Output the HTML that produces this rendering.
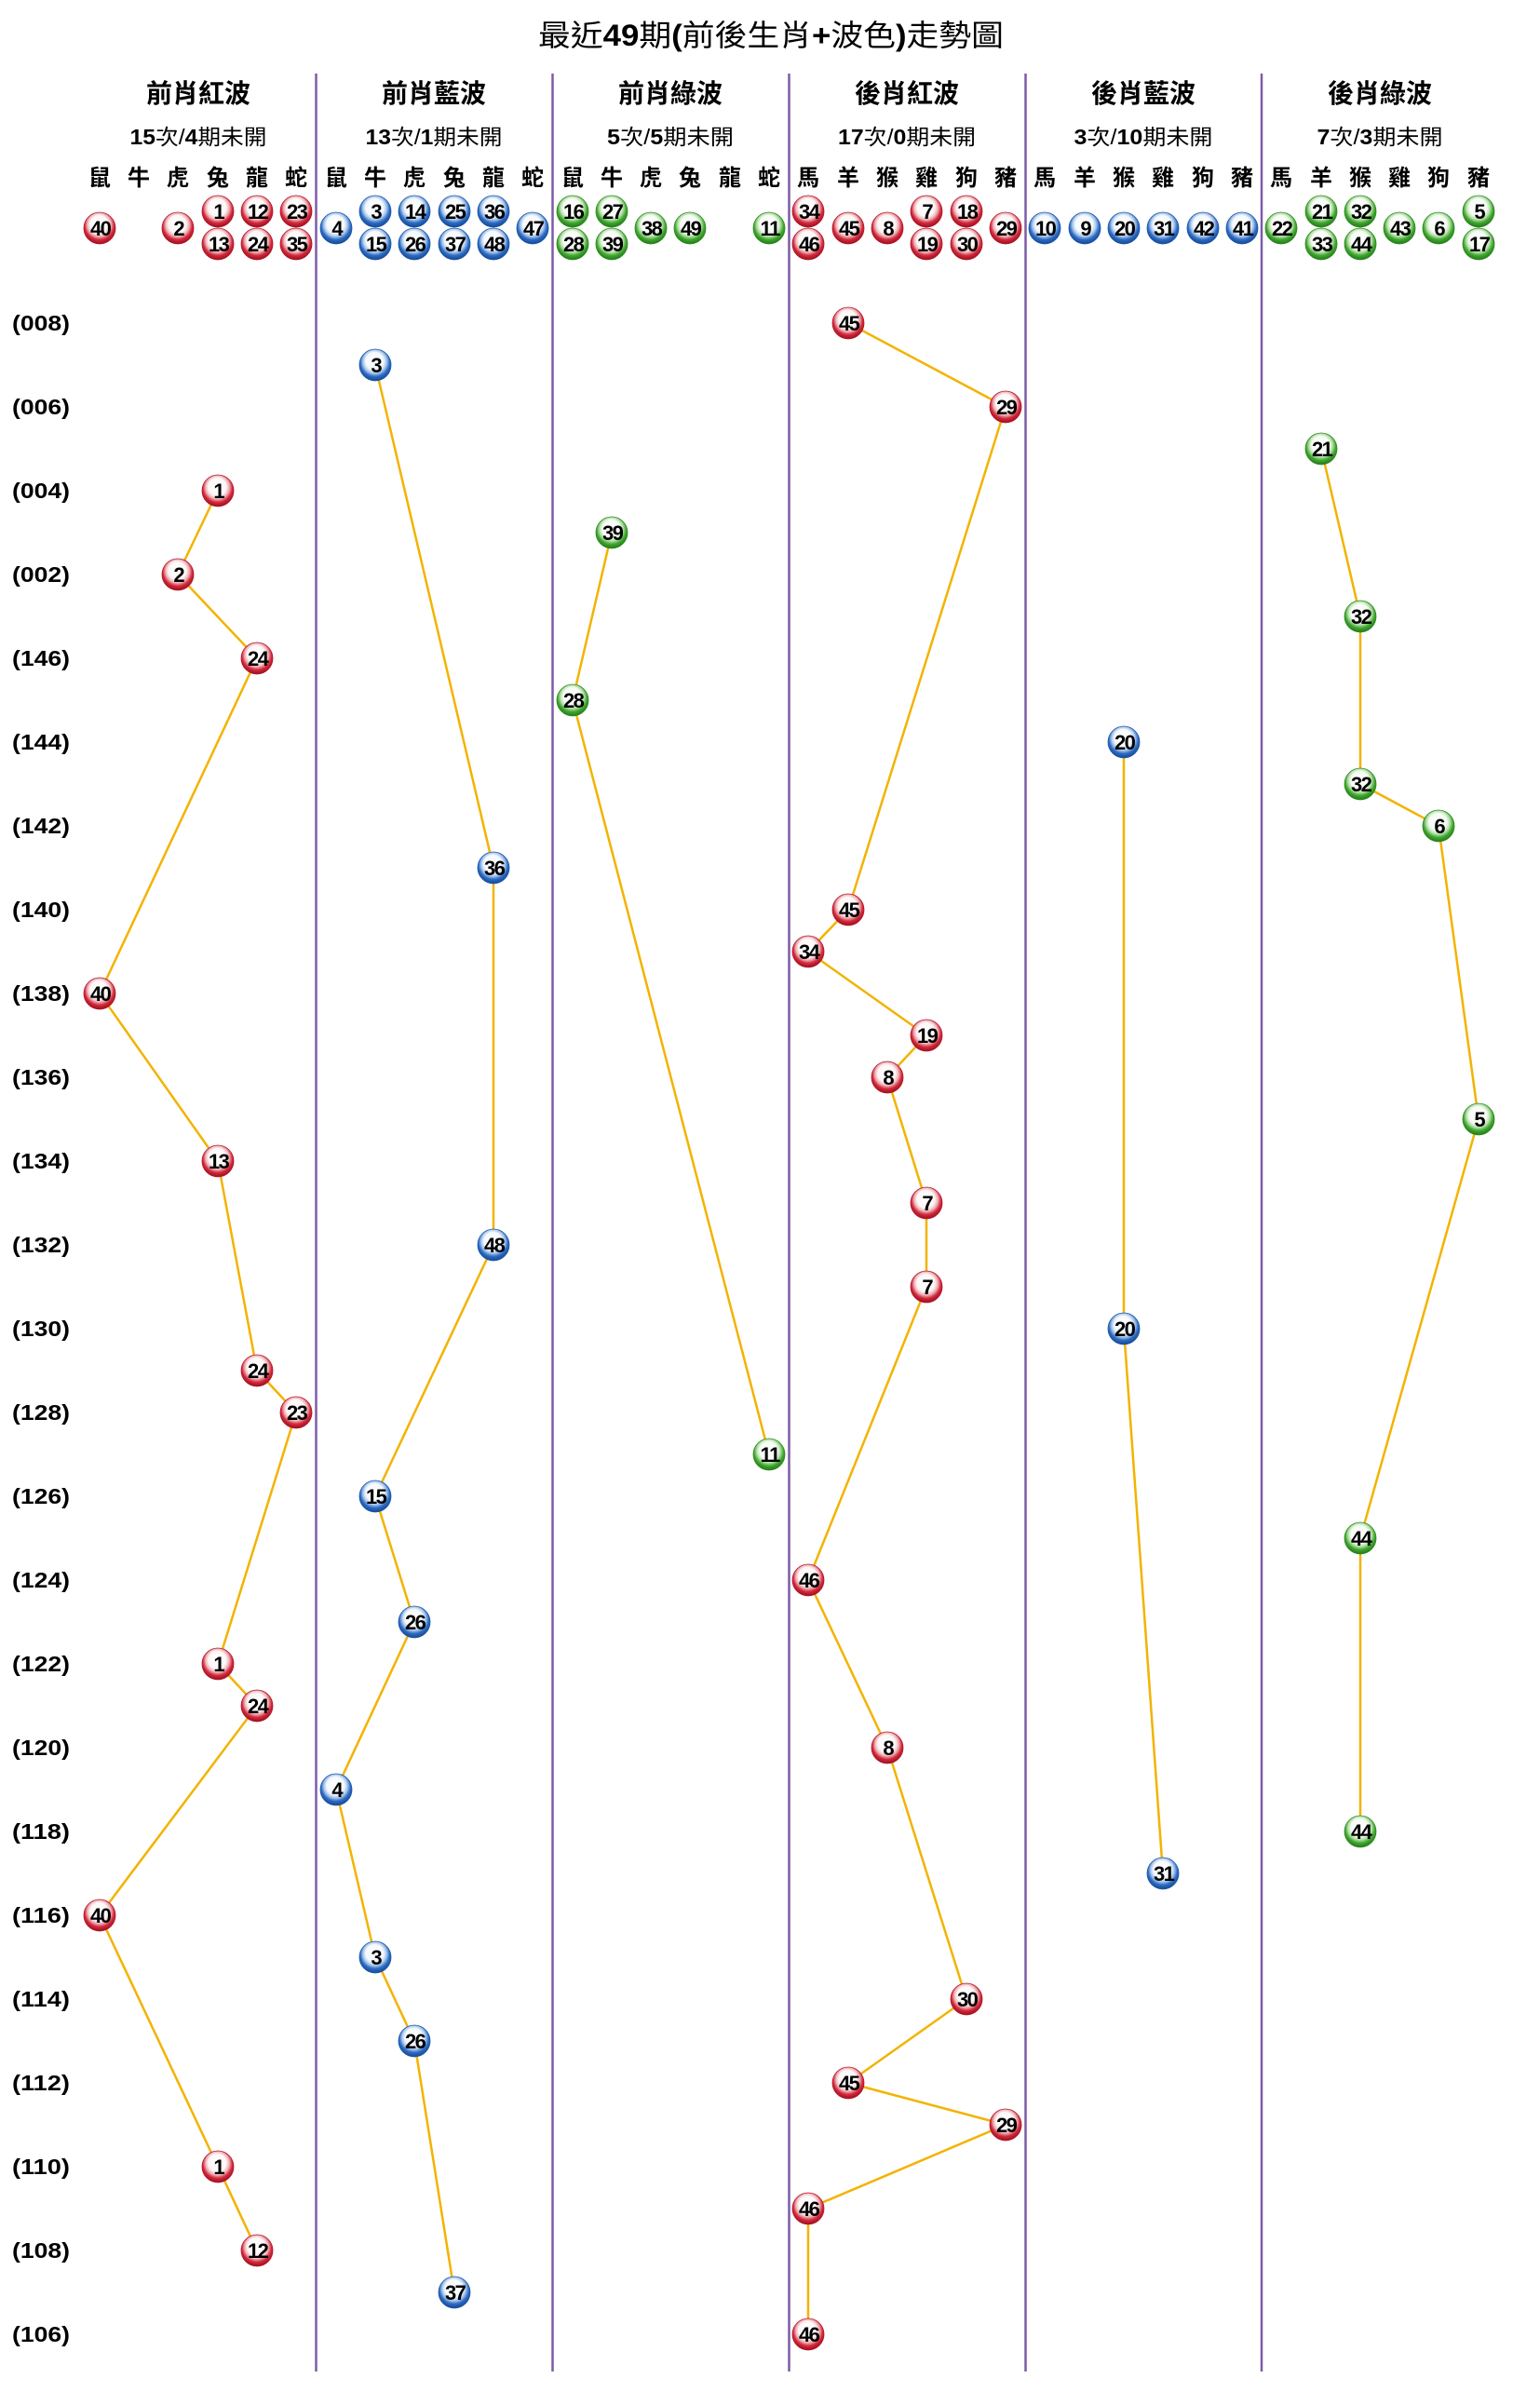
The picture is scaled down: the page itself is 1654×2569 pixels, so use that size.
<!DOCTYPE html>
<html><head><meta charset="utf-8"><style>
html,body{margin:0;padding:0;background:#fff;}
svg{display:block;}
.t{font-family:"Liberation Sans","Noto Sans CJK TC",sans-serif;}
.n{font-family:"Liberation Sans",sans-serif;font-weight:bold;font-size:22px;text-anchor:middle;letter-spacing:-1.5px;fill:#000;transform:translate(0.7px,1px);}
.rb{fill:url(#gr);stroke:#b3172a;stroke-width:0.8;}
.bb{fill:url(#gb);stroke:#1d56a8;stroke-width:0.8;}
.gb{fill:url(#gg);stroke:#2f8a22;stroke-width:0.8;}
.lbl{font-family:"Liberation Sans",sans-serif;font-weight:bold;font-size:23px;fill:#000;}
.zd{font-family:"Liberation Sans","Noto Sans CJK TC",sans-serif;font-weight:bold;font-size:24px;text-anchor:middle;fill:#000;}
.st{font-family:"Liberation Sans","Noto Sans CJK TC",sans-serif;font-weight:bold;font-size:28px;text-anchor:middle;fill:#000;}
.sub{font-family:"Liberation Sans","Noto Sans CJK TC",sans-serif;font-size:23px;text-anchor:middle;fill:#000;}
.ln{fill:none;stroke:#f3b300;stroke-width:2.5;stroke-linejoin:round;}
.sep{stroke:#7d5ba6;stroke-width:2.5;}
</style></head><body>
<svg width="1654" height="2569" viewBox="0 0 1654 2569" xmlns="http://www.w3.org/2000/svg">
<defs>
<radialGradient id="gr" cx="50%" cy="42%" r="58%" fx="46%" fy="34%">
<stop offset="0" stop-color="#ffffff"/><stop offset="0.48" stop-color="#fdf7f7"/><stop offset="0.64" stop-color="#efb3b9"/><stop offset="0.8" stop-color="#d42a3c"/><stop offset="1" stop-color="#9a0e1e"/>
</radialGradient>
<radialGradient id="gb" cx="50%" cy="42%" r="58%" fx="46%" fy="34%">
<stop offset="0" stop-color="#ffffff"/><stop offset="0.48" stop-color="#f5f9fd"/><stop offset="0.64" stop-color="#aac7ec"/><stop offset="0.8" stop-color="#2c6cc4"/><stop offset="1" stop-color="#164890"/>
</radialGradient>
<radialGradient id="gg" cx="50%" cy="42%" r="58%" fx="46%" fy="34%">
<stop offset="0" stop-color="#ffffff"/><stop offset="0.48" stop-color="#f6fbf4"/><stop offset="0.64" stop-color="#b6e0aa"/><stop offset="0.8" stop-color="#40a82f"/><stop offset="1" stop-color="#24781a"/>
</radialGradient>
</defs>
<rect width="1654" height="2569" fill="#fff"/>

<!-- Title -->
<text class="t" x="828" y="49" font-size="32" text-anchor="middle" textLength="500" lengthAdjust="spacingAndGlyphs">最近<tspan font-weight="bold">49</tspan>期<tspan font-weight="bold">(</tspan>前後生肖<tspan font-weight="bold">+</tspan>波色<tspan font-weight="bold">)</tspan>走勢圖</text>

<!-- Separators -->
<line class="sep" x1="339.5" y1="79" x2="339.5" y2="2547"/>
<line class="sep" x1="593.5" y1="79" x2="593.5" y2="2547"/>
<line class="sep" x1="847.5" y1="79" x2="847.5" y2="2547"/>
<line class="sep" x1="1101.5" y1="79" x2="1101.5" y2="2547"/>
<line class="sep" x1="1355" y1="79" x2="1355" y2="2547"/>

<!-- Section titles -->
<text class="st" x="213" y="110">前肖紅波</text>
<text class="st" x="466" y="110">前肖藍波</text>
<text class="st" x="720" y="110">前肖綠波</text>
<text class="st" x="974" y="110">後肖紅波</text>
<text class="st" x="1228" y="110">後肖藍波</text>
<text class="st" x="1482" y="110">後肖綠波</text>

<!-- Subtitles -->
<text class="sub" x="213" y="155" textLength="147" lengthAdjust="spacingAndGlyphs"><tspan font-weight="bold">15</tspan>次/<tspan font-weight="bold">4</tspan>期未開</text>
<text class="sub" x="466" y="155" textLength="147" lengthAdjust="spacingAndGlyphs"><tspan font-weight="bold">13</tspan>次/<tspan font-weight="bold">1</tspan>期未開</text>
<text class="sub" x="720" y="155" textLength="136" lengthAdjust="spacingAndGlyphs"><tspan font-weight="bold">5</tspan>次/<tspan font-weight="bold">5</tspan>期未開</text>
<text class="sub" x="974" y="155" textLength="148" lengthAdjust="spacingAndGlyphs"><tspan font-weight="bold">17</tspan>次/<tspan font-weight="bold">0</tspan>期未開</text>
<text class="sub" x="1228" y="155" textLength="149" lengthAdjust="spacingAndGlyphs"><tspan font-weight="bold">3</tspan>次/<tspan font-weight="bold">10</tspan>期未開</text>
<text class="sub" x="1482" y="155" textLength="135" lengthAdjust="spacingAndGlyphs"><tspan font-weight="bold">7</tspan>次/<tspan font-weight="bold">3</tspan>期未開</text>

<!-- Zodiac labels -->
<text class="zd" x="107" y="199">鼠</text><text class="zd" x="149" y="199">牛</text><text class="zd" x="191" y="199">虎</text><text class="zd" x="234" y="199">兔</text><text class="zd" x="276" y="199">龍</text><text class="zd" x="318" y="199">蛇</text>
<text class="zd" x="361" y="199">鼠</text><text class="zd" x="403" y="199">牛</text><text class="zd" x="445" y="199">虎</text><text class="zd" x="488" y="199">兔</text><text class="zd" x="530" y="199">龍</text><text class="zd" x="572" y="199">蛇</text>
<text class="zd" x="615" y="199">鼠</text><text class="zd" x="657" y="199">牛</text><text class="zd" x="699" y="199">虎</text><text class="zd" x="741" y="199">兔</text><text class="zd" x="784" y="199">龍</text><text class="zd" x="826" y="199">蛇</text>
<text class="zd" x="868" y="199">馬</text><text class="zd" x="911" y="199">羊</text><text class="zd" x="953" y="199">猴</text><text class="zd" x="995" y="199">雞</text><text class="zd" x="1038" y="199">狗</text><text class="zd" x="1080" y="199">豬</text>
<text class="zd" x="1122" y="199">馬</text><text class="zd" x="1165" y="199">羊</text><text class="zd" x="1207" y="199">猴</text><text class="zd" x="1249" y="199">雞</text><text class="zd" x="1292" y="199">狗</text><text class="zd" x="1334" y="199">豬</text>
<text class="zd" x="1376" y="199">馬</text><text class="zd" x="1419" y="199">羊</text><text class="zd" x="1461" y="199">猴</text><text class="zd" x="1503" y="199">雞</text><text class="zd" x="1545" y="199">狗</text><text class="zd" x="1588" y="199">豬</text>

<!-- Header balls -->
<circle class="rb" cx="107" cy="245" r="17"/><text class="n" x="107" y="252">40</text>
<circle class="rb" cx="191" cy="245" r="17"/><text class="n" x="191" y="252">2</text>
<circle class="rb" cx="234" cy="227" r="17"/><text class="n" x="234" y="234">1</text>
<circle class="rb" cx="234" cy="262" r="17"/><text class="n" x="234" y="269">13</text>
<circle class="rb" cx="276" cy="227" r="17"/><text class="n" x="276" y="234">12</text>
<circle class="rb" cx="276" cy="262" r="17"/><text class="n" x="276" y="269">24</text>
<circle class="rb" cx="318" cy="227" r="17"/><text class="n" x="318" y="234">23</text>
<circle class="rb" cx="318" cy="262" r="17"/><text class="n" x="318" y="269">35</text>

<circle class="bb" cx="361" cy="245" r="17"/><text class="n" x="361" y="252">4</text>
<circle class="bb" cx="403" cy="227" r="17"/><text class="n" x="403" y="234">3</text>
<circle class="bb" cx="403" cy="262" r="17"/><text class="n" x="403" y="269">15</text>
<circle class="bb" cx="445" cy="227" r="17"/><text class="n" x="445" y="234">14</text>
<circle class="bb" cx="445" cy="262" r="17"/><text class="n" x="445" y="269">26</text>
<circle class="bb" cx="488" cy="227" r="17"/><text class="n" x="488" y="234">25</text>
<circle class="bb" cx="488" cy="262" r="17"/><text class="n" x="488" y="269">37</text>
<circle class="bb" cx="530" cy="227" r="17"/><text class="n" x="530" y="234">36</text>
<circle class="bb" cx="530" cy="262" r="17"/><text class="n" x="530" y="269">48</text>
<circle class="bb" cx="572" cy="245" r="17"/><text class="n" x="572" y="252">47</text>

<circle class="gb" cx="615" cy="227" r="17"/><text class="n" x="615" y="234">16</text>
<circle class="gb" cx="615" cy="262" r="17"/><text class="n" x="615" y="269">28</text>
<circle class="gb" cx="657" cy="227" r="17"/><text class="n" x="657" y="234">27</text>
<circle class="gb" cx="657" cy="262" r="17"/><text class="n" x="657" y="269">39</text>
<circle class="gb" cx="699" cy="245" r="17"/><text class="n" x="699" y="252">38</text>
<circle class="gb" cx="741" cy="245" r="17"/><text class="n" x="741" y="252">49</text>
<circle class="gb" cx="826" cy="245" r="17"/><text class="n" x="826" y="252">11</text>

<circle class="rb" cx="868" cy="227" r="17"/><text class="n" x="868" y="234">34</text>
<circle class="rb" cx="868" cy="262" r="17"/><text class="n" x="868" y="269">46</text>
<circle class="rb" cx="911" cy="245" r="17"/><text class="n" x="911" y="252">45</text>
<circle class="rb" cx="953" cy="245" r="17"/><text class="n" x="953" y="252">8</text>
<circle class="rb" cx="995" cy="227" r="17"/><text class="n" x="995" y="234">7</text>
<circle class="rb" cx="995" cy="262" r="17"/><text class="n" x="995" y="269">19</text>
<circle class="rb" cx="1038" cy="227" r="17"/><text class="n" x="1038" y="234">18</text>
<circle class="rb" cx="1038" cy="262" r="17"/><text class="n" x="1038" y="269">30</text>
<circle class="rb" cx="1080" cy="245" r="17"/><text class="n" x="1080" y="252">29</text>

<circle class="bb" cx="1122" cy="245" r="17"/><text class="n" x="1122" y="252">10</text>
<circle class="bb" cx="1165" cy="245" r="17"/><text class="n" x="1165" y="252">9</text>
<circle class="bb" cx="1207" cy="245" r="17"/><text class="n" x="1207" y="252">20</text>
<circle class="bb" cx="1249" cy="245" r="17"/><text class="n" x="1249" y="252">31</text>
<circle class="bb" cx="1292" cy="245" r="17"/><text class="n" x="1292" y="252">42</text>
<circle class="bb" cx="1334" cy="245" r="17"/><text class="n" x="1334" y="252">41</text>

<circle class="gb" cx="1376" cy="245" r="17"/><text class="n" x="1376" y="252">22</text>
<circle class="gb" cx="1419" cy="227" r="17"/><text class="n" x="1419" y="234">21</text>
<circle class="gb" cx="1419" cy="262" r="17"/><text class="n" x="1419" y="269">33</text>
<circle class="gb" cx="1461" cy="227" r="17"/><text class="n" x="1461" y="234">32</text>
<circle class="gb" cx="1461" cy="262" r="17"/><text class="n" x="1461" y="269">44</text>
<circle class="gb" cx="1503" cy="245" r="17"/><text class="n" x="1503" y="252">43</text>
<circle class="gb" cx="1545" cy="245" r="17"/><text class="n" x="1545" y="252">6</text>
<circle class="gb" cx="1588" cy="227" r="17"/><text class="n" x="1588" y="234">5</text>
<circle class="gb" cx="1588" cy="262" r="17"/><text class="n" x="1588" y="269">17</text>

<!-- Row labels -->
<text class="lbl" x="13" y="355" textLength="62" lengthAdjust="spacingAndGlyphs">(008)</text>
<text class="lbl" x="13" y="445" textLength="62" lengthAdjust="spacingAndGlyphs">(006)</text>
<text class="lbl" x="13" y="535" textLength="62" lengthAdjust="spacingAndGlyphs">(004)</text>
<text class="lbl" x="13" y="625" textLength="62" lengthAdjust="spacingAndGlyphs">(002)</text>
<text class="lbl" x="13" y="715" textLength="62" lengthAdjust="spacingAndGlyphs">(146)</text>
<text class="lbl" x="13" y="805" textLength="62" lengthAdjust="spacingAndGlyphs">(144)</text>
<text class="lbl" x="13" y="895" textLength="62" lengthAdjust="spacingAndGlyphs">(142)</text>
<text class="lbl" x="13" y="985" textLength="62" lengthAdjust="spacingAndGlyphs">(140)</text>
<text class="lbl" x="13" y="1075" textLength="62" lengthAdjust="spacingAndGlyphs">(138)</text>
<text class="lbl" x="13" y="1165" textLength="62" lengthAdjust="spacingAndGlyphs">(136)</text>
<text class="lbl" x="13" y="1255" textLength="62" lengthAdjust="spacingAndGlyphs">(134)</text>
<text class="lbl" x="13" y="1345" textLength="62" lengthAdjust="spacingAndGlyphs">(132)</text>
<text class="lbl" x="13" y="1435" textLength="62" lengthAdjust="spacingAndGlyphs">(130)</text>
<text class="lbl" x="13" y="1525" textLength="62" lengthAdjust="spacingAndGlyphs">(128)</text>
<text class="lbl" x="13" y="1615" textLength="62" lengthAdjust="spacingAndGlyphs">(126)</text>
<text class="lbl" x="13" y="1705" textLength="62" lengthAdjust="spacingAndGlyphs">(124)</text>
<text class="lbl" x="13" y="1795" textLength="62" lengthAdjust="spacingAndGlyphs">(122)</text>
<text class="lbl" x="13" y="1885" textLength="62" lengthAdjust="spacingAndGlyphs">(120)</text>
<text class="lbl" x="13" y="1975" textLength="62" lengthAdjust="spacingAndGlyphs">(118)</text>
<text class="lbl" x="13" y="2065" textLength="62" lengthAdjust="spacingAndGlyphs">(116)</text>
<text class="lbl" x="13" y="2155" textLength="62" lengthAdjust="spacingAndGlyphs">(114)</text>
<text class="lbl" x="13" y="2245" textLength="62" lengthAdjust="spacingAndGlyphs">(112)</text>
<text class="lbl" x="13" y="2335" textLength="62" lengthAdjust="spacingAndGlyphs">(110)</text>
<text class="lbl" x="13" y="2425" textLength="62" lengthAdjust="spacingAndGlyphs">(108)</text>
<text class="lbl" x="13" y="2515" textLength="62" lengthAdjust="spacingAndGlyphs">(106)</text>

<!-- Trend lines -->
<polyline class="ln" points="234,527 191,617 276,707 107,1067 234,1247 276,1472 318,1517 234,1787 276,1832 107,2057 234,2327 276,2417"/>
<polyline class="ln" points="403,392 530,932 530,1337 403,1607 445,1742 361,1922 403,2102 445,2192 488,2462"/>
<polyline class="ln" points="657,572 615,752 826,1562"/>
<polyline class="ln" points="911,347 1080,437 911,977 868,1022 995,1112 953,1157 995,1292 995,1382 868,1697 953,1877 1038,2147 911,2237 1080,2282 868,2372 868,2507"/>
<polyline class="ln" points="1207,797 1207,1427 1249,2012"/>
<polyline class="ln" points="1419,482 1461,662 1461,842 1545,887 1588,1202 1461,1652 1461,1967"/>

<!-- Chart balls -->
<circle class="rb" cx="911" cy="347" r="17"/><text class="n" x="911" y="354">45</text>
<circle class="bb" cx="403" cy="392" r="17"/><text class="n" x="403" y="399">3</text>
<circle class="rb" cx="1080" cy="437" r="17"/><text class="n" x="1080" y="444">29</text>
<circle class="gb" cx="1419" cy="482" r="17"/><text class="n" x="1419" y="489">21</text>
<circle class="rb" cx="234" cy="527" r="17"/><text class="n" x="234" y="534">1</text>
<circle class="gb" cx="657" cy="572" r="17"/><text class="n" x="657" y="579">39</text>
<circle class="rb" cx="191" cy="617" r="17"/><text class="n" x="191" y="624">2</text>
<circle class="gb" cx="1461" cy="662" r="17"/><text class="n" x="1461" y="669">32</text>
<circle class="rb" cx="276" cy="707" r="17"/><text class="n" x="276" y="714">24</text>
<circle class="gb" cx="615" cy="752" r="17"/><text class="n" x="615" y="759">28</text>
<circle class="bb" cx="1207" cy="797" r="17"/><text class="n" x="1207" y="804">20</text>
<circle class="gb" cx="1461" cy="842" r="17"/><text class="n" x="1461" y="849">32</text>
<circle class="gb" cx="1545" cy="887" r="17"/><text class="n" x="1545" y="894">6</text>
<circle class="bb" cx="530" cy="932" r="17"/><text class="n" x="530" y="939">36</text>
<circle class="rb" cx="911" cy="977" r="17"/><text class="n" x="911" y="984">45</text>
<circle class="rb" cx="868" cy="1022" r="17"/><text class="n" x="868" y="1029">34</text>
<circle class="rb" cx="107" cy="1067" r="17"/><text class="n" x="107" y="1074">40</text>
<circle class="rb" cx="995" cy="1112" r="17"/><text class="n" x="995" y="1119">19</text>
<circle class="rb" cx="953" cy="1157" r="17"/><text class="n" x="953" y="1164">8</text>
<circle class="gb" cx="1588" cy="1202" r="17"/><text class="n" x="1588" y="1209">5</text>
<circle class="rb" cx="234" cy="1247" r="17"/><text class="n" x="234" y="1254">13</text>
<circle class="rb" cx="995" cy="1292" r="17"/><text class="n" x="995" y="1299">7</text>
<circle class="bb" cx="530" cy="1337" r="17"/><text class="n" x="530" y="1344">48</text>
<circle class="rb" cx="995" cy="1382" r="17"/><text class="n" x="995" y="1389">7</text>
<circle class="bb" cx="1207" cy="1427" r="17"/><text class="n" x="1207" y="1434">20</text>
<circle class="rb" cx="276" cy="1472" r="17"/><text class="n" x="276" y="1479">24</text>
<circle class="rb" cx="318" cy="1517" r="17"/><text class="n" x="318" y="1524">23</text>
<circle class="gb" cx="826" cy="1562" r="17"/><text class="n" x="826" y="1569">11</text>
<circle class="bb" cx="403" cy="1607" r="17"/><text class="n" x="403" y="1614">15</text>
<circle class="gb" cx="1461" cy="1652" r="17"/><text class="n" x="1461" y="1659">44</text>
<circle class="rb" cx="868" cy="1697" r="17"/><text class="n" x="868" y="1704">46</text>
<circle class="bb" cx="445" cy="1742" r="17"/><text class="n" x="445" y="1749">26</text>
<circle class="rb" cx="234" cy="1787" r="17"/><text class="n" x="234" y="1794">1</text>
<circle class="rb" cx="276" cy="1832" r="17"/><text class="n" x="276" y="1839">24</text>
<circle class="rb" cx="953" cy="1877" r="17"/><text class="n" x="953" y="1884">8</text>
<circle class="bb" cx="361" cy="1922" r="17"/><text class="n" x="361" y="1929">4</text>
<circle class="gb" cx="1461" cy="1967" r="17"/><text class="n" x="1461" y="1974">44</text>
<circle class="bb" cx="1249" cy="2012" r="17"/><text class="n" x="1249" y="2019">31</text>
<circle class="rb" cx="107" cy="2057" r="17"/><text class="n" x="107" y="2064">40</text>
<circle class="bb" cx="403" cy="2102" r="17"/><text class="n" x="403" y="2109">3</text>
<circle class="rb" cx="1038" cy="2147" r="17"/><text class="n" x="1038" y="2154">30</text>
<circle class="bb" cx="445" cy="2192" r="17"/><text class="n" x="445" y="2199">26</text>
<circle class="rb" cx="911" cy="2237" r="17"/><text class="n" x="911" y="2244">45</text>
<circle class="rb" cx="1080" cy="2282" r="17"/><text class="n" x="1080" y="2289">29</text>
<circle class="rb" cx="234" cy="2327" r="17"/><text class="n" x="234" y="2334">1</text>
<circle class="rb" cx="868" cy="2372" r="17"/><text class="n" x="868" y="2379">46</text>
<circle class="rb" cx="276" cy="2417" r="17"/><text class="n" x="276" y="2424">12</text>
<circle class="bb" cx="488" cy="2462" r="17"/><text class="n" x="488" y="2469">37</text>
<circle class="rb" cx="868" cy="2507" r="17"/><text class="n" x="868" y="2514">46</text>
</svg>
</body></html>
